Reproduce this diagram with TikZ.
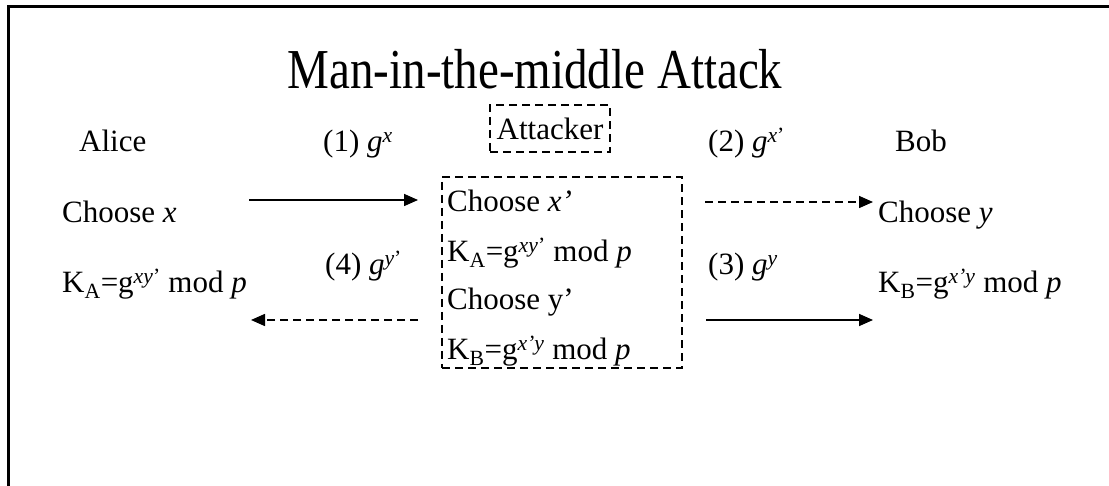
\documentclass[tikz,border=0pt]{standalone}
\usepackage{fontspec}
\setmainfont{Liberation Serif}
\usetikzlibrary{arrows.meta}
\tikzset{
  body/.style={font=\fontsize{31}{37}\selectfont, inner sep=0pt, anchor=base west},
  dbox/.style={draw, line width=1.5pt, dash pattern=on 8pt off 5pt, inner sep=0pt},
  msg/.style={line width=1.6pt, -{Triangle[length=14pt,width=12pt]}},
  dmsg/.style={msg, dash pattern=on 8pt off 5pt},
  frame/.style={line width=3pt}
}
\begin{document}
\begin{tikzpicture}[x=1pt,y=-1pt]
\useasboundingbox (0,0) rectangle (1109,486);
% frame
\coordinate (fTR) at (1109,6.5);
\coordinate (fTL) at (8.5,6.5);
\coordinate (fBL) at (8.5,486);
\draw[frame] (fTR) -- (fTL) -- (fBL);
% title
\node[font=\fontsize{47}{50}\selectfont, inner sep=0pt, anchor=base] (title) at (535,89) {\scalebox{1}[1.2]{Man-in-the-middle Attack}};
% parties
\node[body] (alice) at (79,152) {Alice};
\node[body] (bob) at (895,152) {Bob};
\node[dbox, minimum width=120pt, minimum height=47pt, font=\fontsize{31}{37}\selectfont] (att) at (550,128.5) {Attacker};
% labels
\node[body] (m1) at (323,152) {(1) \textit{g}\textsuperscript{\textit{x}}};
\node[body] (m2) at (708,152) {(2) \textit{g}\textsuperscript{\textit{x}’}};
\node[body] (m4) at (325,275) {(4) \textit{g}\textsuperscript{\textit{y}’}};
\node[body] (m3) at (708,275) {(3) \textit{g}\textsuperscript{\textit{y}}};
% alice side
\node[body] (ax) at (62,223) {Choose \textit{x}};
\node[body] (ak) at (62,293) {K\textsubscript{A}=g\textsuperscript{\textit{xy}’} mod \textit{p}};
% bob side
\node[body] (by) at (878,223) {Choose \textit{y}};
\node[body] (bk) at (878,293) {K\textsubscript{B}=g\textsuperscript{\textit{x’y}} mod \textit{p}};
% attacker box
\node[dbox, minimum width=240pt, minimum height=191pt] (abox) at (562,272.5) {};
\node[body] (r1) at (447,212) {Choose \textit{x’}};
\node[body] (r2) at (447,262) {K\textsubscript{A}=g\textsuperscript{\textit{xy}’} mod \textit{p}};
\node[body] (r3) at (447,310) {Choose y’};
\node[body] (r4) at (447,360) {K\textsubscript{B}=g\textsuperscript{\textit{x’y}} mod \textit{p}};
% arrows
\coordinate (a1s) at (249,200); \coordinate (a1e) at (418,200);
\coordinate (a2s) at (705,202); \coordinate (a2e) at (873,202);
\coordinate (a3s) at (706,320); \coordinate (a3e) at (873,320);
\coordinate (a4s) at (418,320); \coordinate (a4e) at (251,320);
\draw[msg] (a1s) -- (a1e);
\draw[dmsg] (a2s) -- (a2e);
\draw[msg] (a3s) -- (a3e);
\draw[dmsg] (a4s) -- (a4e);
\end{tikzpicture}
\end{document}
